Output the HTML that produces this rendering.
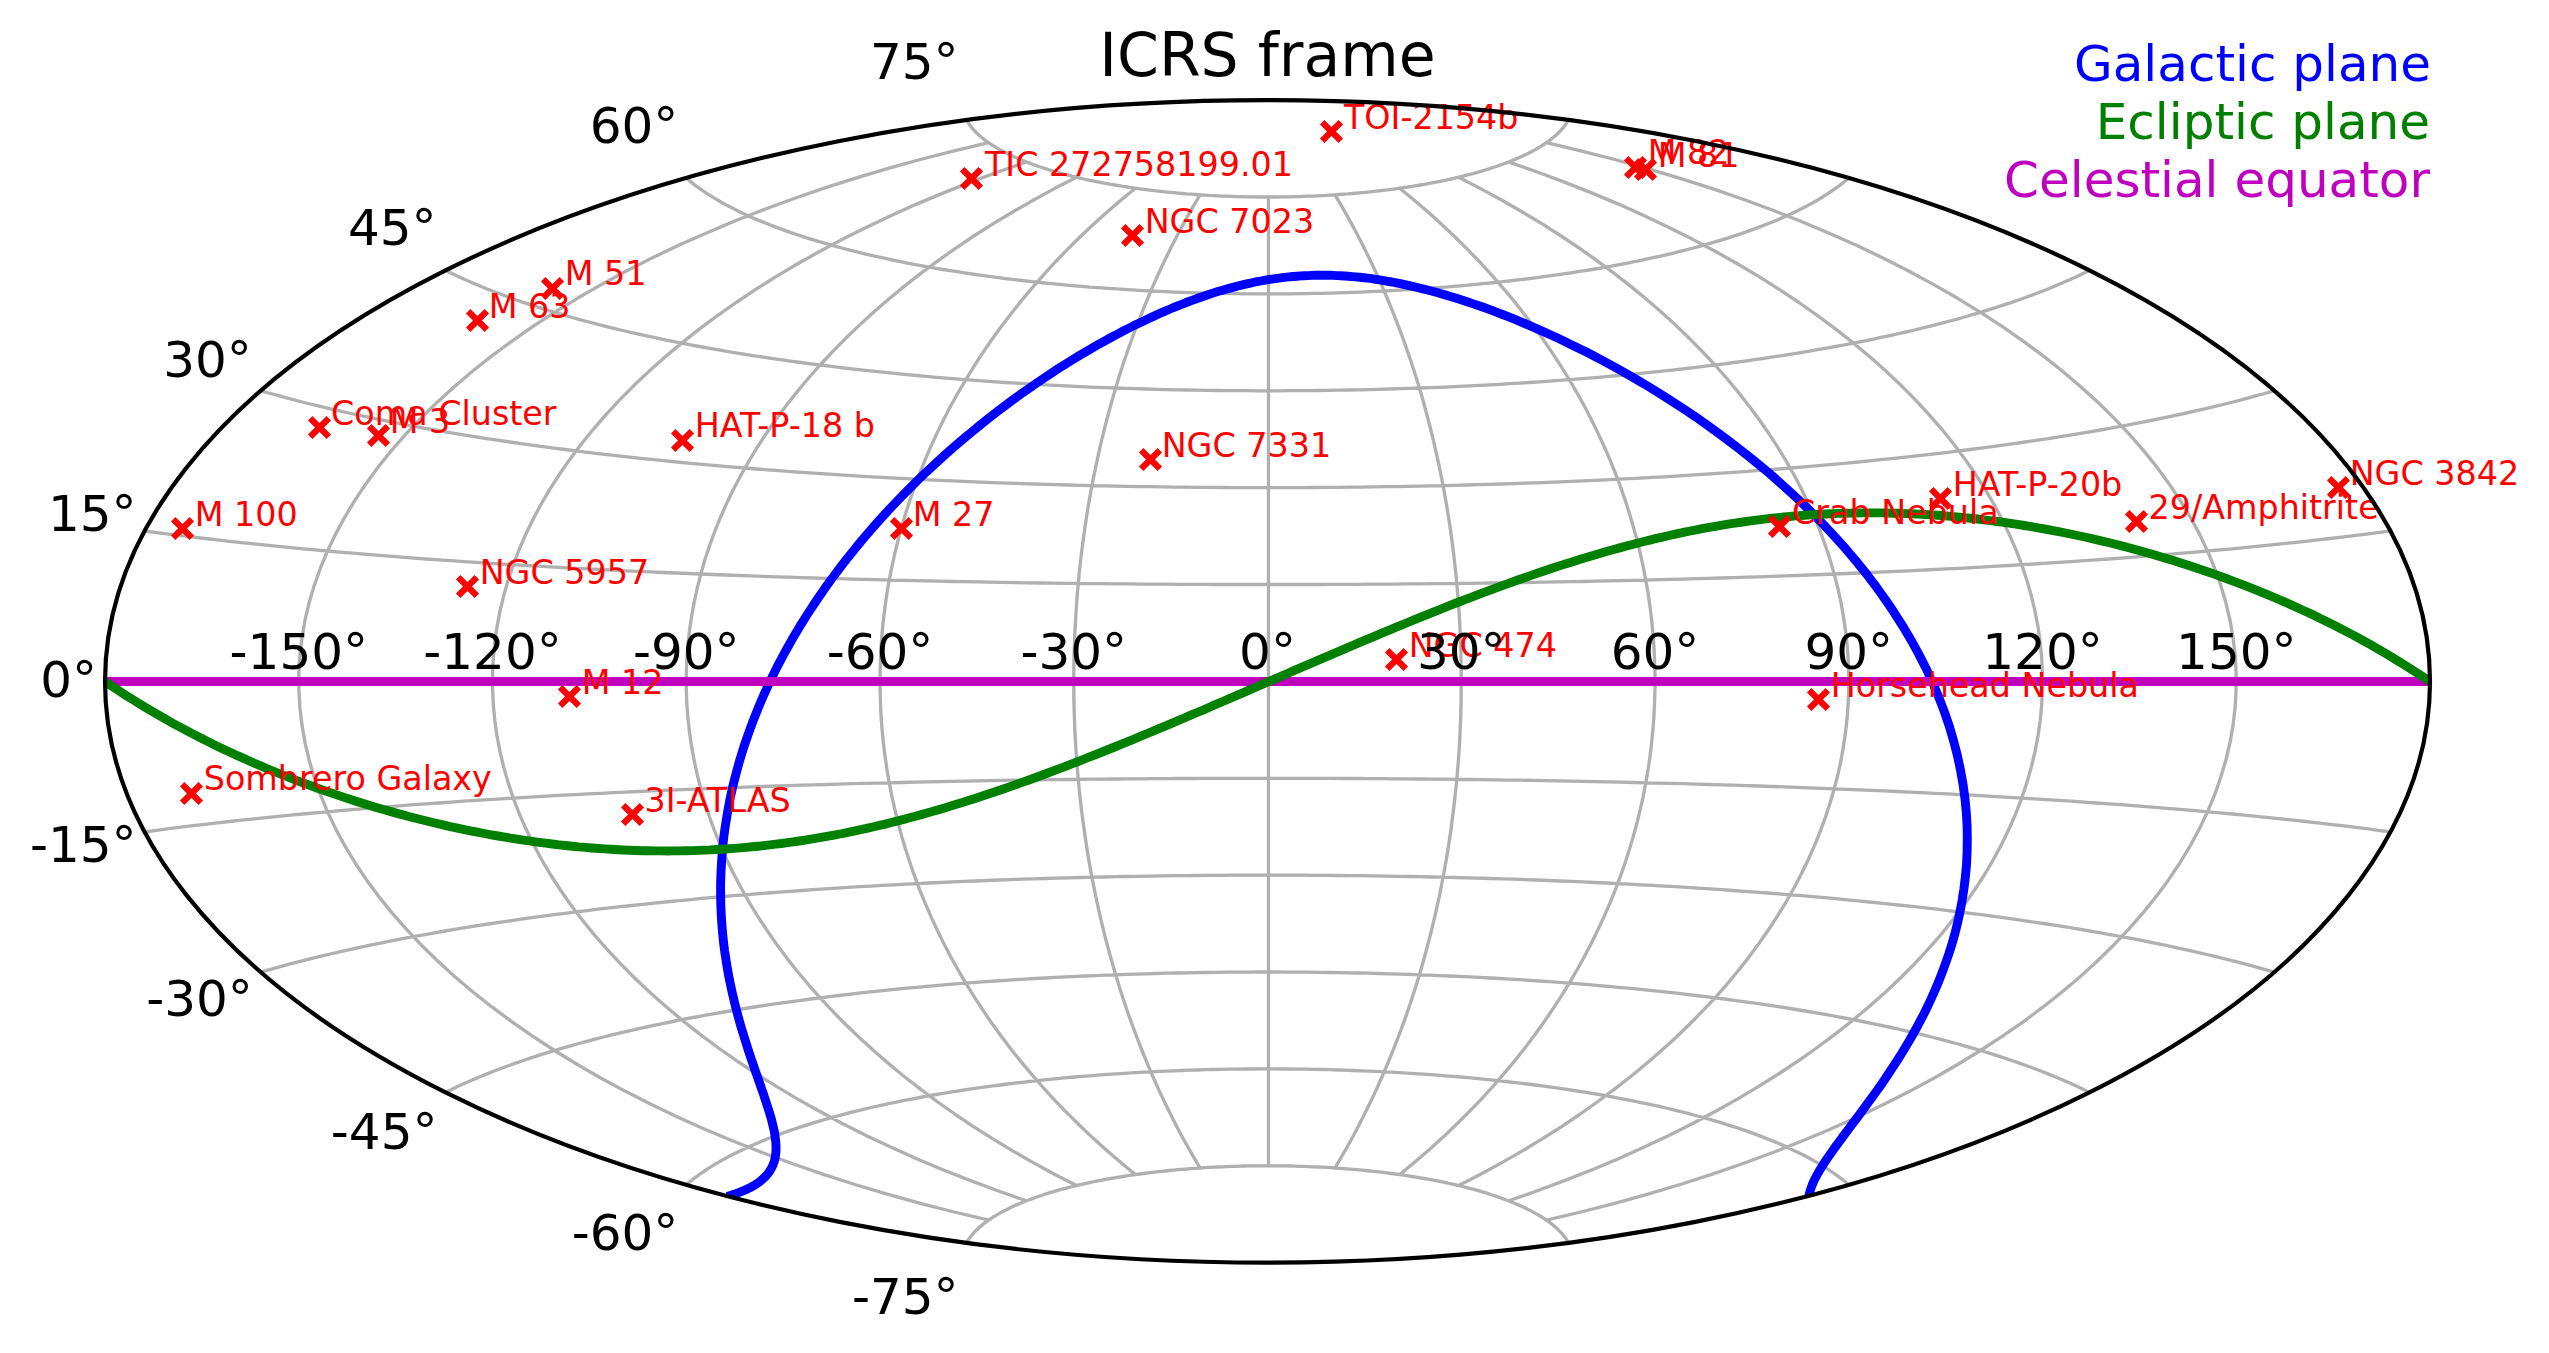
<!DOCTYPE html>
<html lang="en"><head><meta charset="utf-8"><title>ICRS frame</title>
<style>html,body{margin:0;padding:0;background:#fff}svg{display:block}text{white-space:pre}</style></head>
<body>
<svg width="2549" height="1353" viewBox="0 0 2549 1353" font-family="'DejaVu Sans', 'Liberation Sans', sans-serif">
<rect width="2549" height="1353" fill="#fff"/>
<clipPath id="clip"><ellipse cx="1267.51" cy="681.41" rx="1162.50" ry="581.25"/></clipPath>
<g clip-path="url(#clip)" fill="none" stroke-linejoin="round">
<path d="M988.7 1220.1L954.1 1212.0L920.3 1203.3L887.3 1194.2L854.9 1184.5L823.4 1174.4L792.7 1163.8L762.7 1152.8L733.6 1141.3L705.4 1129.5L678 1117.2L651.5 1104.6L625.9 1091.6L601.2 1078.2L577.4 1064.5L554.5 1050.5L532.6 1036.2L511.6 1021.6L491.5 1006.7L472.4 991.5L454.3 976.2L437.2 960.5L421 944.7L405.8 928.7L391.6 912.4L378.4 896.0L366.2 879.4L355 862.7L344.9 845.9L335.7 828.9L327.5 811.8L320.4 794.6L314.2 777.3L309.1 760.0L305 742.6L302 725.1L299.9 707.7L298.9 690.2L298.9 672.7L299.9 655.2L302 637.7L305 620.2L309.1 602.8L314.2 585.5L320.4 568.2L327.5 551.0L335.7 533.9L344.9 517.0L355 500.1L366.2 483.4L378.4 466.8L391.6 450.4L405.8 434.2L421 418.1L437.2 402.3L454.3 386.7L472.4 371.3L491.5 356.1L511.6 341.3L532.6 326.6L554.5 312.3L577.4 298.3L601.2 284.6L625.9 271.3L651.5 258.3L678 245.6L705.4 233.4L733.6 221.5L762.7 210.0L792.7 199.0L823.4 188.4L854.9 178.3L887.3 168.6L920.3 159.5L954.1 150.8L988.7 142.7M1026.4 1200.8L997.8 1190.8L969.9 1180.4L942.9 1169.7L916.6 1158.7L891.2 1147.3L866.6 1135.7L842.8 1123.7L819.9 1111.5L797.7 1099.1L776.4 1086.4L755.8 1073.5L736.1 1060.3L717.1 1047.0L698.9 1033.4L681.6 1019.7L665 1005.8L649.2 991.8L634.1 977.5L619.9 963.2L606.4 948.7L593.7 934.1L581.7 919.3L570.5 904.5L560.1 889.5L550.4 874.5L541.5 859.3L533.3 844.1L525.9 828.8L519.2 813.5L513.3 798.1L508.1 782.6L503.7 767.1L500 751.6L497 736.0L494.8 720.4L493.3 704.8L492.6 689.2L492.6 673.6L493.3 658.0L494.8 642.4L497 626.8L500 611.2L503.7 595.7L508.1 580.2L513.3 564.7L519.2 549.3L525.9 534.0L533.3 518.7L541.5 503.5L550.4 488.4L560.1 473.3L570.5 458.4L581.7 443.5L593.7 428.8L606.4 414.1L619.9 399.6L634.1 385.3L649.2 371.1L665 357.0L681.6 343.1L698.9 329.4L717.1 315.8L736.1 302.5L755.8 289.4L776.4 276.4L797.7 263.7L819.9 251.3L842.8 239.1L866.6 227.2L891.2 215.5L916.6 204.1L942.9 193.1L969.9 182.4L997.8 172.0L1026.4 162.0M1076.5 1185.6L1054.4 1174.2L1033.2 1162.6L1012.7 1150.9L992.9 1138.9L973.8 1126.8L955.5 1114.5L937.8 1102.0L920.8 1089.4L904.5 1076.7L888.8 1063.8L873.8 1050.8L859.5 1037.7L845.7 1024.5L832.6 1011.2L820.1 997.8L808.2 984.3L796.8 970.7L786.1 957.1L775.9 943.3L766.4 929.5L757.3 915.7L748.9 901.8L741 887.8L733.6 873.8L726.8 859.7L720.5 845.6L714.8 831.4L709.6 817.3L704.9 803.0L700.8 788.8L697.2 774.5L694.1 760.2L691.5 745.9L689.4 731.6L687.9 717.3L686.8 702.9L686.3 688.6L686.3 674.2L686.8 659.9L687.9 645.6L689.4 631.2L691.5 616.9L694.1 602.6L697.2 588.3L700.8 574.0L704.9 559.8L709.6 545.6L714.8 531.4L720.5 517.2L726.8 503.1L733.6 489.1L741 475.0L748.9 461.1L757.3 447.1L766.4 433.3L775.9 419.5L786.1 405.7L796.8 392.1L808.2 378.5L820.1 365.0L832.6 351.6L845.7 338.3L859.5 325.1L873.8 312.0L888.8 299.0L904.5 286.1L920.8 273.4L937.8 260.8L955.5 248.3L973.8 236.0L992.9 223.9L1012.7 212.0L1033.2 200.2L1054.4 188.6L1076.5 177.2M1135.4 1174.6L1120.5 1162.3L1106.2 1150.0L1092.4 1137.6L1079.2 1125.0L1066.5 1112.4L1054.3 1099.8L1042.7 1087.0L1031.5 1074.2L1020.8 1061.4L1010.5 1048.5L1000.7 1035.5L991.3 1022.5L982.4 1009.4L973.9 996.3L965.8 983.2L958.1 970.0L950.7 956.8L943.8 943.5L937.3 930.2L931.1 916.9L925.4 903.6L919.9 890.3L914.9 876.9L910.2 863.5L905.8 850.1L901.8 836.6L898.2 823.2L894.9 809.7L891.9 796.3L889.2 782.8L886.9 769.3L885 755.8L883.3 742.3L882 728.7L881 715.2L880.4 701.7L880.1 688.2L880.1 674.6L880.4 661.1L881 647.6L882 634.1L883.3 620.6L885 607.1L886.9 593.5L889.2 580.1L891.9 566.6L894.9 553.1L898.2 539.6L901.8 526.2L905.8 512.8L910.2 499.3L914.9 485.9L919.9 472.6L925.4 459.2L931.1 445.9L937.3 432.6L943.8 419.3L950.7 406.0L958.1 392.8L965.8 379.7L973.9 366.5L982.4 353.4L991.3 340.3L1000.7 327.3L1010.5 314.4L1020.8 301.4L1031.5 288.6L1042.7 275.8L1054.3 263.0L1066.5 250.4L1079.2 237.8L1092.4 225.3L1106.2 212.8L1120.5 200.5L1135.4 188.2M1200 1168.0L1192.5 1155.2L1185.3 1142.5L1178.4 1129.7L1171.8 1116.8L1165.5 1104.0L1159.4 1091.1L1153.6 1078.3L1148.1 1065.4L1142.8 1052.5L1137.7 1039.5L1132.9 1026.6L1128.2 1013.7L1123.8 1000.7L1119.6 987.7L1115.7 974.8L1111.9 961.8L1108.3 948.8L1104.9 935.8L1101.7 922.8L1098.7 909.8L1095.9 896.8L1093.2 883.7L1090.7 870.7L1088.4 857.7L1086.3 844.6L1084.4 831.6L1082.6 818.5L1081 805.5L1079.5 792.4L1078.3 779.4L1077.1 766.3L1076.2 753.3L1075.4 740.2L1074.7 727.1L1074.3 714.1L1073.9 701.0L1073.8 687.9L1073.8 674.9L1073.9 661.8L1074.3 648.7L1074.7 635.7L1075.4 622.6L1076.2 609.6L1077.1 596.5L1078.3 583.4L1079.5 570.4L1081 557.3L1082.6 544.3L1084.4 531.2L1086.3 518.2L1088.4 505.2L1090.7 492.1L1093.2 479.1L1095.9 466.1L1098.7 453.0L1101.7 440.0L1104.9 427.0L1108.3 414.0L1111.9 401.0L1115.7 388.0L1119.6 375.1L1123.8 362.1L1128.2 349.2L1132.9 336.2L1137.7 323.3L1142.8 310.4L1148.1 297.5L1153.6 284.6L1159.4 271.7L1165.5 258.8L1171.8 246.0L1178.4 233.2L1185.3 220.4L1192.5 207.6L1200 194.8M1268.5 1165.8L1268.5 1152.9L1268.5 1140.0L1268.5 1127.0L1268.5 1114.1L1268.5 1101.2L1268.5 1088.3L1268.5 1075.4L1268.5 1062.5L1268.5 1049.5L1268.5 1036.6L1268.5 1023.7L1268.5 1010.8L1268.5 997.9L1268.5 985.0L1268.5 972.0L1268.5 959.1L1268.5 946.2L1268.5 933.3L1268.5 920.4L1268.5 907.5L1268.5 894.5L1268.5 881.6L1268.5 868.7L1268.5 855.8L1268.5 842.9L1268.5 830.0L1268.5 817.0L1268.5 804.1L1268.5 791.2L1268.5 778.3L1268.5 765.4L1268.5 752.5L1268.5 739.5L1268.5 726.6L1268.5 713.7L1268.5 700.8L1268.5 687.9L1268.5 675.0L1268.5 662.0L1268.5 649.1L1268.5 636.2L1268.5 623.3L1268.5 610.4L1268.5 597.5L1268.5 584.5L1268.5 571.6L1268.5 558.7L1268.5 545.8L1268.5 532.9L1268.5 520.0L1268.5 507.0L1268.5 494.1L1268.5 481.2L1268.5 468.3L1268.5 455.4L1268.5 442.5L1268.5 429.5L1268.5 416.6L1268.5 403.7L1268.5 390.8L1268.5 377.9L1268.5 365.0L1268.5 352.0L1268.5 339.1L1268.5 326.2L1268.5 313.3L1268.5 300.4L1268.5 287.5L1268.5 274.5L1268.5 261.6L1268.5 248.7L1268.5 235.8L1268.5 222.9L1268.5 210.0L1268.5 197.0M1335 1168.0L1342.5 1155.2L1349.7 1142.5L1356.6 1129.7L1363.2 1116.8L1369.5 1104.0L1375.6 1091.1L1381.4 1078.3L1386.9 1065.4L1392.2 1052.5L1397.3 1039.5L1402.2 1026.6L1406.8 1013.7L1411.2 1000.7L1415.4 987.7L1419.4 974.8L1423.2 961.8L1426.7 948.8L1430.1 935.8L1433.3 922.8L1436.3 909.8L1439.2 896.8L1441.8 883.7L1444.3 870.7L1446.6 857.7L1448.7 844.6L1450.7 831.6L1452.4 818.5L1454 805.5L1455.5 792.4L1456.8 779.4L1457.9 766.3L1458.9 753.3L1459.7 740.2L1460.3 727.1L1460.8 714.1L1461.1 701.0L1461.2 687.9L1461.2 674.9L1461.1 661.8L1460.8 648.7L1460.3 635.7L1459.7 622.6L1458.9 609.6L1457.9 596.5L1456.8 583.4L1455.5 570.4L1454 557.3L1452.4 544.3L1450.7 531.2L1448.7 518.2L1446.6 505.2L1444.3 492.1L1441.8 479.1L1439.2 466.1L1436.3 453.0L1433.3 440.0L1430.1 427.0L1426.7 414.0L1423.2 401.0L1419.4 388.0L1415.4 375.1L1411.2 362.1L1406.8 349.2L1402.2 336.2L1397.3 323.3L1392.2 310.4L1386.9 297.5L1381.4 284.6L1375.6 271.7L1369.5 258.8L1363.2 246.0L1356.6 233.2L1349.7 220.4L1342.5 207.6L1335 194.8M1399.7 1174.6L1414.6 1162.3L1428.9 1150.0L1442.6 1137.6L1455.8 1125.0L1468.5 1112.4L1480.7 1099.8L1492.4 1087.0L1503.5 1074.2L1514.3 1061.4L1524.5 1048.5L1534.3 1035.5L1543.7 1022.5L1552.6 1009.4L1561.2 996.3L1569.3 983.2L1577 970.0L1584.3 956.8L1591.2 943.5L1597.7 930.2L1603.9 916.9L1609.7 903.6L1615.1 890.3L1620.2 876.9L1624.9 863.5L1629.2 850.1L1633.2 836.6L1636.9 823.2L1640.2 809.7L1643.2 796.3L1645.8 782.8L1648.1 769.3L1650.1 755.8L1651.7 742.3L1653 728.7L1654 715.2L1654.6 701.7L1655 688.2L1655 674.6L1654.6 661.1L1654 647.6L1653 634.1L1651.7 620.6L1650.1 607.1L1648.1 593.5L1645.8 580.1L1643.2 566.6L1640.2 553.1L1636.9 539.6L1633.2 526.2L1629.2 512.8L1624.9 499.3L1620.2 485.9L1615.1 472.6L1609.7 459.2L1603.9 445.9L1597.7 432.6L1591.2 419.3L1584.3 406.0L1577 392.8L1569.3 379.7L1561.2 366.5L1552.6 353.4L1543.7 340.3L1534.3 327.3L1524.5 314.4L1514.3 301.4L1503.5 288.6L1492.4 275.8L1480.7 263.0L1468.5 250.4L1455.8 237.8L1442.6 225.3L1428.9 212.8L1414.6 200.5L1399.7 188.2M1458.6 1185.6L1480.6 1174.2L1501.9 1162.6L1522.4 1150.9L1542.2 1138.9L1561.2 1126.8L1579.6 1114.5L1597.2 1102.0L1614.2 1089.4L1630.5 1076.7L1646.2 1063.8L1661.2 1050.8L1675.6 1037.7L1689.3 1024.5L1702.4 1011.2L1715 997.8L1726.9 984.3L1738.2 970.7L1748.9 957.1L1759.1 943.3L1768.7 929.5L1777.7 915.7L1786.2 901.8L1794.1 887.8L1801.4 873.8L1808.2 859.7L1814.5 845.6L1820.2 831.4L1825.4 817.3L1830.1 803.0L1834.2 788.8L1837.9 774.5L1841 760.2L1843.5 745.9L1845.6 731.6L1847.2 717.3L1848.2 702.9L1848.7 688.6L1848.7 674.2L1848.2 659.9L1847.2 645.6L1845.6 631.2L1843.5 616.9L1841 602.6L1837.9 588.3L1834.2 574.0L1830.1 559.8L1825.4 545.6L1820.2 531.4L1814.5 517.2L1808.2 503.1L1801.4 489.1L1794.1 475.0L1786.2 461.1L1777.7 447.1L1768.7 433.3L1759.1 419.5L1748.9 405.7L1738.2 392.1L1726.9 378.5L1715 365.0L1702.4 351.6L1689.3 338.3L1675.6 325.1L1661.2 312.0L1646.2 299.0L1630.5 286.1L1614.2 273.4L1597.2 260.8L1579.6 248.3L1561.2 236.0L1542.2 223.9L1522.4 212.0L1501.9 200.2L1480.6 188.6L1458.6 177.2M1508.6 1200.8L1537.3 1190.8L1565.1 1180.4L1592.2 1169.7L1618.4 1158.7L1643.8 1147.3L1668.4 1135.7L1692.2 1123.7L1715.2 1111.5L1737.3 1099.1L1758.7 1086.4L1779.2 1073.5L1799 1060.3L1817.9 1047.0L1836.1 1033.4L1853.5 1019.7L1870.1 1005.8L1885.9 991.8L1900.9 977.5L1915.2 963.2L1928.6 948.7L1941.4 934.1L1953.3 919.3L1964.5 904.5L1974.9 889.5L1984.6 874.5L1993.5 859.3L2001.7 844.1L2009.1 828.8L2015.8 813.5L2021.7 798.1L2026.9 782.6L2031.3 767.1L2035 751.6L2038 736.0L2040.2 720.4L2041.7 704.8L2042.4 689.2L2042.4 673.6L2041.7 658.0L2040.2 642.4L2038 626.8L2035 611.2L2031.3 595.7L2026.9 580.2L2021.7 564.7L2015.8 549.3L2009.1 534.0L2001.7 518.7L1993.5 503.5L1984.6 488.4L1974.9 473.3L1964.5 458.4L1953.3 443.5L1941.4 428.8L1928.6 414.1L1915.2 399.6L1900.9 385.3L1885.9 371.1L1870.1 357.0L1853.5 343.1L1836.1 329.4L1817.9 315.8L1799 302.5L1779.2 289.4L1758.7 276.4L1737.3 263.7L1715.2 251.3L1692.2 239.1L1668.4 227.2L1643.8 215.5L1618.4 204.1L1592.2 193.1L1565.1 182.4L1537.3 172.0L1508.6 162.0M1546.4 1220.1L1580.9 1212.0L1614.7 1203.3L1647.8 1194.2L1680.1 1184.5L1711.6 1174.4L1742.4 1163.8L1772.3 1152.8L1801.4 1141.3L1829.6 1129.5L1857 1117.2L1883.5 1104.6L1909.1 1091.6L1933.8 1078.2L1957.6 1064.5L1980.5 1050.5L2002.5 1036.2L2023.5 1021.6L2043.5 1006.7L2062.6 991.5L2080.7 976.2L2097.9 960.5L2114 944.7L2129.2 928.7L2143.4 912.4L2156.6 896.0L2168.8 879.4L2180 862.7L2190.2 845.9L2199.4 828.9L2207.5 811.8L2214.7 794.6L2220.8 777.3L2225.9 760.0L2230 742.6L2233.1 725.1L2235.1 707.7L2236.1 690.2L2236.1 672.7L2235.1 655.2L2233.1 637.7L2230 620.2L2225.9 602.8L2220.8 585.5L2214.7 568.2L2207.5 551.0L2199.4 533.9L2190.2 517.0L2180 500.1L2168.8 483.4L2156.6 466.8L2143.4 450.4L2129.2 434.2L2114 418.1L2097.9 402.3L2080.7 386.7L2062.6 371.3L2043.5 356.1L2023.5 341.3L2002.5 326.6L1980.5 312.3L1957.6 298.3L1933.8 284.6L1909.1 271.3L1883.5 258.3L1857 245.6L1829.6 233.4L1801.4 221.5L1772.3 210.0L1742.4 199.0L1711.6 188.4L1680.1 178.3L1647.8 168.6L1614.7 159.5L1580.9 150.8L1546.4 142.7M966.6 1242.9L967.5 1241.2L968.5 1239.6L969.6 1238.1L970.8 1236.5L972 1234.9L973.3 1233.4L974.7 1231.9L976.2 1230.3L977.8 1228.8L979.4 1227.3L981.1 1225.9L982.9 1224.4L984.7 1223.0L986.7 1221.5L988.7 1220.1L990.7 1218.7L992.9 1217.3L995.1 1216.0L997.3 1214.6L999.7 1213.3L1002.1 1211.9L1004.6 1210.6L1007.1 1209.4L1009.7 1208.1L1012.3 1206.8L1015 1205.6L1017.8 1204.4L1020.6 1203.2L1023.5 1202.0L1026.4 1200.8L1029.4 1199.7L1032.5 1198.6L1035.6 1197.5L1038.7 1196.4L1041.9 1195.3L1045.2 1194.2L1048.5 1193.2L1051.8 1192.2L1055.2 1191.2L1058.6 1190.2L1062.1 1189.2L1065.6 1188.3L1069.2 1187.4L1072.8 1186.5L1076.5 1185.6L1080.1 1184.7L1083.9 1183.9L1087.6 1183.0L1091.4 1182.2L1095.3 1181.4L1099.1 1180.7L1103 1179.9L1107 1179.2L1110.9 1178.5L1114.9 1177.8L1119 1177.1L1123 1176.5L1127.1 1175.8L1131.2 1175.2L1135.4 1174.6L1139.5 1174.0L1143.7 1173.5L1147.9 1172.9L1152.2 1172.4L1156.4 1171.9L1160.7 1171.4L1165 1171.0L1169.3 1170.5L1173.7 1170.1L1178 1169.7L1182.4 1169.3L1186.8 1169.0L1191.2 1168.6L1195.6 1168.3L1200 1168.0L1204.5 1167.7L1208.9 1167.4L1213.4 1167.2L1217.9 1167.0L1222.3 1166.8L1226.8 1166.6L1231.3 1166.4L1235.8 1166.3L1240.4 1166.1L1244.9 1166.0L1249.4 1165.9L1253.9 1165.9L1258.5 1165.8L1263 1165.8L1267.5 1165.8L1272 1165.8L1276.6 1165.8L1281.1 1165.9L1285.6 1165.9L1290.1 1166.0L1294.7 1166.1L1299.2 1166.3L1303.7 1166.4L1308.2 1166.6L1312.7 1166.8L1317.2 1167.0L1321.6 1167.2L1326.1 1167.4L1330.6 1167.7L1335 1168.0L1339.4 1168.3L1343.9 1168.6L1348.3 1169.0L1352.6 1169.3L1357 1169.7L1361.4 1170.1L1365.7 1170.5L1370 1171.0L1374.3 1171.4L1378.6 1171.9L1382.9 1172.4L1387.1 1172.9L1391.3 1173.5L1395.5 1174.0L1399.7 1174.6L1403.8 1175.2L1407.9 1175.8L1412 1176.5L1416.1 1177.1L1420.1 1177.8L1424.1 1178.5L1428.1 1179.2L1432 1179.9L1435.9 1180.7L1439.8 1181.4L1443.6 1182.2L1447.4 1183.0L1451.2 1183.9L1454.9 1184.7L1458.6 1185.6L1462.2 1186.5L1465.8 1187.4L1469.4 1188.3L1472.9 1189.2L1476.4 1190.2L1479.8 1191.2L1483.2 1192.2L1486.6 1193.2L1489.9 1194.2L1493.1 1195.3L1496.3 1196.4L1499.4 1197.5L1502.5 1198.6L1505.6 1199.7L1508.6 1200.8L1511.5 1202.0L1514.4 1203.2L1517.2 1204.4L1520 1205.6L1522.7 1206.8L1525.4 1208.1L1527.9 1209.4L1530.5 1210.6L1532.9 1211.9L1535.3 1213.3L1537.7 1214.6L1540 1216.0L1542.2 1217.3L1544.3 1218.7L1546.4 1220.1L1548.4 1221.5L1550.3 1223.0L1552.1 1224.4L1553.9 1225.9L1555.6 1227.3L1557.3 1228.8L1558.8 1230.3L1560.3 1231.9L1561.7 1233.4L1563 1234.9L1564.3 1236.5L1565.4 1238.1L1566.5 1239.6L1567.5 1241.2L1568.4 1242.9M686.3 1184.8L689.6 1182.0L693 1179.3L696.5 1176.6L700.2 1173.9L704 1171.3L707.9 1168.7L712 1166.1L716.1 1163.6L720.4 1161.2L724.7 1158.7L729.2 1156.3L733.8 1154.0L738.4 1151.7L743.2 1149.4L748.1 1147.1L753 1144.9L758.1 1142.7L763.3 1140.6L768.5 1138.5L773.8 1136.4L779.2 1134.4L784.7 1132.4L790.2 1130.4L795.9 1128.5L801.6 1126.6L807.4 1124.8L813.3 1122.9L819.2 1121.1L825.2 1119.4L831.3 1117.7L837.4 1116.0L843.6 1114.3L849.8 1112.7L856.2 1111.1L862.5 1109.6L869 1108.0L875.5 1106.5L882 1105.1L888.6 1103.7L895.2 1102.3L901.9 1100.9L908.7 1099.6L915.5 1098.3L922.3 1097.0L929.2 1095.7L936.1 1094.5L943.1 1093.4L950.1 1092.2L957.2 1091.1L964.3 1090.0L971.4 1088.9L978.5 1087.9L985.7 1086.9L993 1085.9L1000.2 1085.0L1007.5 1084.0L1014.9 1083.1L1022.2 1082.3L1029.6 1081.5L1037 1080.6L1044.5 1079.9L1051.9 1079.1L1059.4 1078.4L1066.9 1077.7L1074.5 1077.0L1082 1076.4L1089.6 1075.8L1097.2 1075.2L1104.8 1074.6L1112.4 1074.1L1120.1 1073.6L1127.8 1073.1L1135.4 1072.6L1143.1 1072.2L1150.8 1071.8L1158.6 1071.4L1166.3 1071.1L1174 1070.8L1181.8 1070.5L1189.6 1070.2L1197.3 1070.0L1205.1 1069.7L1212.9 1069.5L1220.7 1069.4L1228.5 1069.2L1236.3 1069.1L1244.1 1069.0L1251.9 1069.0L1259.7 1068.9L1267.5 1068.9L1275.3 1068.9L1283.1 1069.0L1290.9 1069.0L1298.7 1069.1L1306.5 1069.2L1314.3 1069.4L1322.1 1069.5L1329.9 1069.7L1337.7 1070.0L1345.5 1070.2L1353.2 1070.5L1361 1070.8L1368.7 1071.1L1376.5 1071.4L1384.2 1071.8L1391.9 1072.2L1399.6 1072.6L1407.3 1073.1L1414.9 1073.6L1422.6 1074.1L1430.2 1074.6L1437.8 1075.2L1445.4 1075.8L1453 1076.4L1460.6 1077.0L1468.1 1077.7L1475.6 1078.4L1483.1 1079.1L1490.6 1079.9L1498 1080.6L1505.4 1081.5L1512.8 1082.3L1520.2 1083.1L1527.5 1084.0L1534.8 1085.0L1542.1 1085.9L1549.3 1086.9L1556.5 1087.9L1563.6 1088.9L1570.8 1090.0L1577.9 1091.1L1584.9 1092.2L1591.9 1093.4L1598.9 1094.5L1605.8 1095.7L1612.7 1097.0L1619.5 1098.3L1626.3 1099.6L1633.1 1100.9L1639.8 1102.3L1646.4 1103.7L1653 1105.1L1659.6 1106.5L1666.1 1108.0L1672.5 1109.6L1678.9 1111.1L1685.2 1112.7L1691.4 1114.3L1697.6 1116.0L1703.8 1117.7L1709.8 1119.4L1715.8 1121.1L1721.8 1122.9L1727.6 1124.8L1733.4 1126.6L1739.1 1128.5L1744.8 1130.4L1750.3 1132.4L1755.8 1134.4L1761.2 1136.4L1766.5 1138.5L1771.8 1140.6L1776.9 1142.7L1782 1144.9L1786.9 1147.1L1791.8 1149.4L1796.6 1151.7L1801.3 1154.0L1805.8 1156.3L1810.3 1158.7L1814.7 1161.2L1818.9 1163.6L1823.1 1166.1L1827.1 1168.7L1831 1171.3L1834.8 1173.9L1838.5 1176.6L1842 1179.3L1845.5 1182.0L1848.8 1184.8M445.5 1092.4L452 1089.2L458.7 1086.1L465.4 1083.0L472.3 1080.0L479.3 1077.0L486.4 1074.1L493.6 1071.3L500.9 1068.5L508.3 1065.8L515.7 1063.1L523.3 1060.5L531 1057.9L538.7 1055.4L546.6 1052.9L554.5 1050.5L562.5 1048.1L570.6 1045.8L578.7 1043.5L586.9 1041.3L595.2 1039.1L603.6 1037.0L612 1034.9L620.5 1032.9L629.1 1030.8L637.7 1028.9L646.3 1027.0L655.1 1025.1L663.8 1023.3L672.7 1021.5L681.6 1019.7L690.5 1018.0L699.5 1016.3L708.5 1014.7L717.6 1013.1L726.7 1011.5L735.9 1010.0L745.1 1008.5L754.3 1007.0L763.6 1005.6L772.9 1004.2L782.3 1002.9L791.7 1001.6L801.1 1000.3L810.6 999.0L820.1 997.8L829.6 996.6L839.2 995.5L848.7 994.3L858.4 993.2L868 992.2L877.7 991.1L887.4 990.1L897.1 989.2L906.8 988.2L916.6 987.3L926.4 986.4L936.2 985.6L946 984.7L955.9 983.9L965.8 983.2L975.6 982.4L985.6 981.7L995.5 981.0L1005.4 980.4L1015.4 979.7L1025.3 979.1L1035.3 978.5L1045.3 978.0L1055.3 977.4L1065.4 976.9L1075.4 976.4L1085.5 976.0L1095.5 975.6L1105.6 975.2L1115.7 974.8L1125.7 974.4L1135.8 974.1L1145.9 973.8L1156 973.5L1166.2 973.2L1176.3 973.0L1186.4 972.8L1196.5 972.6L1206.7 972.5L1216.8 972.3L1226.9 972.2L1237.1 972.1L1247.2 972.1L1257.4 972.0L1267.5 972.0L1277.7 972.0L1287.8 972.1L1297.9 972.1L1308.1 972.2L1318.2 972.3L1328.4 972.5L1338.5 972.6L1348.6 972.8L1358.7 973.0L1368.9 973.2L1379 973.5L1389.1 973.8L1399.2 974.1L1409.3 974.4L1419.4 974.8L1429.4 975.2L1439.5 975.6L1449.6 976.0L1459.6 976.4L1469.7 976.9L1479.7 977.4L1489.7 978.0L1499.7 978.5L1509.7 979.1L1519.7 979.7L1529.6 980.4L1539.5 981.0L1549.5 981.7L1559.4 982.4L1569.3 983.2L1579.1 983.9L1589 984.7L1598.8 985.6L1608.6 986.4L1618.4 987.3L1628.2 988.2L1637.9 989.2L1647.7 990.1L1657.4 991.1L1667 992.2L1676.7 993.2L1686.3 994.3L1695.9 995.5L1705.4 996.6L1715 997.8L1724.5 999.0L1733.9 1000.3L1743.3 1001.6L1752.7 1002.9L1762.1 1004.2L1771.4 1005.6L1780.7 1007.0L1790 1008.5L1799.2 1010.0L1808.3 1011.5L1817.4 1013.1L1826.5 1014.7L1835.6 1016.3L1844.5 1018.0L1853.5 1019.7L1862.4 1021.5L1871.2 1023.3L1880 1025.1L1888.7 1027.0L1897.4 1028.9L1906 1030.8L1914.5 1032.9L1923 1034.9L1931.4 1037.0L1939.8 1039.1L1948.1 1041.3L1956.3 1043.5L1964.5 1045.8L1972.5 1048.1L1980.5 1050.5L1988.4 1052.9L1996.3 1055.4L2004 1057.9L2011.7 1060.5L2019.3 1063.1L2026.8 1065.8L2034.2 1068.5L2041.5 1071.3L2048.7 1074.1L2055.7 1077.0L2062.7 1080.0L2069.6 1083.0L2076.4 1086.1L2083 1089.2L2089.5 1092.4M260.8 972.0L270.5 969.3L280.3 966.6L290.2 963.9L300.1 961.4L310.1 958.8L320.2 956.4L330.3 954.0L340.5 951.7L350.7 949.4L361 947.1L371.4 944.9L381.8 942.8L392.2 940.7L402.7 938.7L413.3 936.7L423.9 934.8L434.5 932.9L445.2 931.0L455.9 929.2L466.6 927.4L477.4 925.7L488.3 924.0L499.1 922.4L510 920.8L520.9 919.2L531.9 917.7L542.9 916.2L553.9 914.7L564.9 913.3L576 911.9L587.1 910.6L598.2 909.2L609.4 907.9L620.6 906.7L631.8 905.5L643 904.3L654.2 903.1L665.5 902.0L676.8 900.8L688.1 899.8L699.4 898.7L710.7 897.7L722.1 896.7L733.5 895.7L744.9 894.8L756.3 893.9L767.7 893.0L779.1 892.1L790.6 891.3L802 890.5L813.5 889.7L825 888.9L836.5 888.2L848 887.4L859.6 886.7L871.1 886.1L882.6 885.4L894.2 884.8L905.8 884.2L917.4 883.6L928.9 883.0L940.5 882.5L952.1 881.9L963.8 881.4L975.4 881.0L987 880.5L998.7 880.0L1010.3 879.6L1021.9 879.2L1033.6 878.8L1045.3 878.5L1056.9 878.1L1068.6 877.8L1080.3 877.5L1092 877.2L1103.6 877.0L1115.3 876.7L1127 876.5L1138.7 876.3L1150.4 876.1L1162.1 875.9L1173.8 875.7L1185.5 875.6L1197.2 875.5L1208.9 875.4L1220.7 875.3L1232.4 875.2L1244.1 875.2L1255.8 875.2L1267.5 875.2L1279.2 875.2L1290.9 875.2L1302.7 875.2L1314.4 875.3L1326.1 875.4L1337.8 875.5L1349.5 875.6L1361.2 875.7L1372.9 875.9L1384.6 876.1L1396.3 876.3L1408 876.5L1419.7 876.7L1431.4 877.0L1443.1 877.2L1454.8 877.5L1466.4 877.8L1478.1 878.1L1489.8 878.5L1501.4 878.8L1513.1 879.2L1524.7 879.6L1536.4 880.0L1548 880.5L1559.6 881.0L1571.3 881.4L1582.9 881.9L1594.5 882.5L1606.1 883.0L1617.7 883.6L1629.3 884.2L1640.8 884.8L1652.4 885.4L1663.9 886.1L1675.5 886.7L1687 887.4L1698.5 888.2L1710 888.9L1721.5 889.7L1733 890.5L1744.5 891.3L1755.9 892.1L1767.3 893.0L1778.8 893.9L1790.2 894.8L1801.6 895.7L1812.9 896.7L1824.3 897.7L1835.6 898.7L1847 899.8L1858.3 900.8L1869.5 902.0L1880.8 903.1L1892 904.3L1903.3 905.5L1914.5 906.7L1925.6 907.9L1936.8 909.2L1947.9 910.6L1959 911.9L1970.1 913.3L1981.1 914.7L1992.1 916.2L2003.1 917.7L2014.1 919.2L2025 920.8L2035.9 922.4L2046.8 924.0L2057.6 925.7L2068.4 927.4L2079.1 929.2L2089.8 931.0L2100.5 932.9L2111.2 934.8L2121.7 936.7L2132.3 938.7L2142.8 940.7L2153.2 942.8L2163.6 944.9L2174 947.1L2184.3 949.4L2194.5 951.7L2204.7 954.0L2214.9 956.4L2224.9 958.8L2234.9 961.4L2244.9 963.9L2254.7 966.6L2264.5 969.3L2274.3 972.0M144.6 831.8L156.7 830.3L168.8 828.7L180.9 827.2L193 825.7L205.1 824.3L217.3 822.9L229.5 821.5L241.7 820.2L253.9 818.9L266.1 817.6L278.4 816.4L290.6 815.2L302.9 814.0L315.2 812.9L327.5 811.8L339.8 810.7L352.2 809.6L364.5 808.6L376.8 807.6L389.2 806.6L401.6 805.7L413.9 804.7L426.3 803.8L438.7 803.0L451.1 802.1L463.6 801.2L476 800.4L488.4 799.6L500.9 798.8L513.3 798.1L525.8 797.3L538.2 796.6L550.7 795.9L563.2 795.2L575.7 794.6L588.1 793.9L600.6 793.3L613.1 792.7L625.6 792.1L638.2 791.5L650.7 790.9L663.2 790.4L675.7 789.8L688.2 789.3L700.8 788.8L713.3 788.3L725.9 787.8L738.4 787.3L751 786.9L763.5 786.5L776.1 786.0L788.6 785.6L801.2 785.2L813.8 784.8L826.3 784.5L838.9 784.1L851.5 783.7L864.1 783.4L876.7 783.1L889.2 782.8L901.8 782.5L914.4 782.2L927 781.9L939.6 781.6L952.2 781.4L964.8 781.1L977.4 780.9L990 780.7L1002.6 780.4L1015.2 780.2L1027.8 780.1L1040.4 779.9L1053 779.7L1065.6 779.5L1078.3 779.4L1090.9 779.2L1103.5 779.1L1116.1 779.0L1128.7 778.9L1141.3 778.8L1153.9 778.7L1166.6 778.6L1179.2 778.5L1191.8 778.5L1204.4 778.4L1217 778.4L1229.7 778.3L1242.3 778.3L1254.9 778.3L1267.5 778.3L1280.1 778.3L1292.8 778.3L1305.4 778.3L1318 778.4L1330.6 778.4L1343.2 778.5L1355.9 778.5L1368.5 778.6L1381.1 778.7L1393.7 778.8L1406.3 778.9L1418.9 779.0L1431.6 779.1L1444.2 779.2L1456.8 779.4L1469.4 779.5L1482 779.7L1494.6 779.9L1507.2 780.1L1519.8 780.2L1532.4 780.4L1545 780.7L1557.6 780.9L1570.2 781.1L1582.8 781.4L1595.4 781.6L1608 781.9L1620.6 782.2L1633.2 782.5L1645.8 782.8L1658.4 783.1L1671 783.4L1683.5 783.7L1696.1 784.1L1708.7 784.5L1721.3 784.8L1733.8 785.2L1746.4 785.6L1759 786.0L1771.5 786.5L1784.1 786.9L1796.6 787.3L1809.2 787.8L1821.7 788.3L1834.2 788.8L1846.8 789.3L1859.3 789.8L1871.8 790.4L1884.4 790.9L1896.9 791.5L1909.4 792.1L1921.9 792.7L1934.4 793.3L1946.9 793.9L1959.4 794.6L1971.9 795.2L1984.3 795.9L1996.8 796.6L2009.3 797.3L2021.7 798.1L2034.2 798.8L2046.6 799.6L2059 800.4L2071.5 801.2L2083.9 802.1L2096.3 803.0L2108.7 803.8L2121.1 804.7L2133.5 805.7L2145.8 806.6L2158.2 807.6L2170.5 808.6L2182.9 809.6L2195.2 810.7L2207.5 811.8L2219.8 812.9L2232.1 814.0L2244.4 815.2L2256.6 816.4L2268.9 817.6L2281.1 818.9L2293.3 820.2L2305.5 821.5L2317.7 822.9L2329.9 824.3L2342 825.7L2354.1 827.2L2366.3 828.7L2378.3 830.3L2390.4 831.8M144.6 531.0L156.7 532.6L168.8 534.1L180.9 535.6L193 537.1L205.1 538.5L217.3 539.9L229.5 541.3L241.7 542.6L253.9 543.9L266.1 545.2L278.4 546.4L290.6 547.6L302.9 548.8L315.2 549.9L327.5 551.0L339.8 552.1L352.2 553.2L364.5 554.2L376.8 555.2L389.2 556.2L401.6 557.1L413.9 558.1L426.3 559.0L438.7 559.9L451.1 560.7L463.6 561.6L476 562.4L488.4 563.2L500.9 564.0L513.3 564.7L525.8 565.5L538.2 566.2L550.7 566.9L563.2 567.6L575.7 568.3L588.1 568.9L600.6 569.5L613.1 570.2L625.6 570.8L638.2 571.3L650.7 571.9L663.2 572.5L675.7 573.0L688.2 573.5L700.8 574.0L713.3 574.5L725.9 575.0L738.4 575.5L751 575.9L763.5 576.4L776.1 576.8L788.6 577.2L801.2 577.6L813.8 578.0L826.3 578.4L838.9 578.7L851.5 579.1L864.1 579.4L876.7 579.7L889.2 580.1L901.8 580.4L914.4 580.6L927 580.9L939.6 581.2L952.2 581.5L964.8 581.7L977.4 581.9L990 582.2L1002.6 582.4L1015.2 582.6L1027.8 582.8L1040.4 583.0L1053 583.1L1065.6 583.3L1078.3 583.4L1090.9 583.6L1103.5 583.7L1116.1 583.8L1128.7 583.9L1141.3 584.1L1153.9 584.1L1166.6 584.2L1179.2 584.3L1191.8 584.4L1204.4 584.4L1217 584.5L1229.7 584.5L1242.3 584.5L1254.9 584.5L1267.5 584.5L1280.1 584.5L1292.8 584.5L1305.4 584.5L1318 584.5L1330.6 584.4L1343.2 584.4L1355.9 584.3L1368.5 584.2L1381.1 584.1L1393.7 584.1L1406.3 583.9L1418.9 583.8L1431.6 583.7L1444.2 583.6L1456.8 583.4L1469.4 583.3L1482 583.1L1494.6 583.0L1507.2 582.8L1519.8 582.6L1532.4 582.4L1545 582.2L1557.6 581.9L1570.2 581.7L1582.8 581.5L1595.4 581.2L1608 580.9L1620.6 580.6L1633.2 580.4L1645.8 580.1L1658.4 579.7L1671 579.4L1683.5 579.1L1696.1 578.7L1708.7 578.4L1721.3 578.0L1733.8 577.6L1746.4 577.2L1759 576.8L1771.5 576.4L1784.1 575.9L1796.6 575.5L1809.2 575.0L1821.7 574.5L1834.2 574.0L1846.8 573.5L1859.3 573.0L1871.8 572.5L1884.4 571.9L1896.9 571.3L1909.4 570.8L1921.9 570.2L1934.4 569.5L1946.9 568.9L1959.4 568.3L1971.9 567.6L1984.3 566.9L1996.8 566.2L2009.3 565.5L2021.7 564.7L2034.2 564.0L2046.6 563.2L2059 562.4L2071.5 561.6L2083.9 560.7L2096.3 559.9L2108.7 559.0L2121.1 558.1L2133.5 557.1L2145.8 556.2L2158.2 555.2L2170.5 554.2L2182.9 553.2L2195.2 552.1L2207.5 551.0L2219.8 549.9L2232.1 548.8L2244.4 547.6L2256.6 546.4L2268.9 545.2L2281.1 543.9L2293.3 542.6L2305.5 541.3L2317.7 539.9L2329.9 538.5L2342 537.1L2354.1 535.6L2366.3 534.1L2378.3 532.6L2390.4 531.0M260.8 390.8L270.5 393.5L280.3 396.2L290.2 398.9L300.1 401.5L310.1 404.0L320.2 406.4L330.3 408.8L340.5 411.2L350.7 413.5L361 415.7L371.4 417.9L381.8 420.0L392.2 422.1L402.7 424.1L413.3 426.1L423.9 428.1L434.5 430.0L445.2 431.8L455.9 433.6L466.6 435.4L477.4 437.1L488.3 438.8L499.1 440.4L510 442.0L520.9 443.6L531.9 445.1L542.9 446.6L553.9 448.1L564.9 449.5L576 450.9L587.1 452.3L598.2 453.6L609.4 454.9L620.6 456.1L631.8 457.4L643 458.6L654.2 459.7L665.5 460.9L676.8 462.0L688.1 463.1L699.4 464.1L710.7 465.1L722.1 466.1L733.5 467.1L744.9 468.0L756.3 469.0L767.7 469.8L779.1 470.7L790.6 471.6L802 472.4L813.5 473.2L825 473.9L836.5 474.7L848 475.4L859.6 476.1L871.1 476.8L882.6 477.4L894.2 478.1L905.8 478.7L917.4 479.2L928.9 479.8L940.5 480.4L952.1 480.9L963.8 481.4L975.4 481.9L987 482.3L998.7 482.8L1010.3 483.2L1021.9 483.6L1033.6 484.0L1045.3 484.3L1056.9 484.7L1068.6 485.0L1080.3 485.3L1092 485.6L1103.6 485.9L1115.3 486.1L1127 486.3L1138.7 486.6L1150.4 486.7L1162.1 486.9L1173.8 487.1L1185.5 487.2L1197.2 487.3L1208.9 487.4L1220.7 487.5L1232.4 487.6L1244.1 487.6L1255.8 487.7L1267.5 487.7L1279.2 487.7L1290.9 487.6L1302.7 487.6L1314.4 487.5L1326.1 487.4L1337.8 487.3L1349.5 487.2L1361.2 487.1L1372.9 486.9L1384.6 486.7L1396.3 486.6L1408 486.3L1419.7 486.1L1431.4 485.9L1443.1 485.6L1454.8 485.3L1466.4 485.0L1478.1 484.7L1489.8 484.3L1501.4 484.0L1513.1 483.6L1524.7 483.2L1536.4 482.8L1548 482.3L1559.6 481.9L1571.3 481.4L1582.9 480.9L1594.5 480.4L1606.1 479.8L1617.7 479.2L1629.3 478.7L1640.8 478.1L1652.4 477.4L1663.9 476.8L1675.5 476.1L1687 475.4L1698.5 474.7L1710 473.9L1721.5 473.2L1733 472.4L1744.5 471.6L1755.9 470.7L1767.3 469.8L1778.8 469.0L1790.2 468.0L1801.6 467.1L1812.9 466.1L1824.3 465.1L1835.6 464.1L1847 463.1L1858.3 462.0L1869.5 460.9L1880.8 459.7L1892 458.6L1903.3 457.4L1914.5 456.1L1925.6 454.9L1936.8 453.6L1947.9 452.3L1959 450.9L1970.1 449.5L1981.1 448.1L1992.1 446.6L2003.1 445.1L2014.1 443.6L2025 442.0L2035.9 440.4L2046.8 438.8L2057.6 437.1L2068.4 435.4L2079.1 433.6L2089.8 431.8L2100.5 430.0L2111.2 428.1L2121.7 426.1L2132.3 424.1L2142.8 422.1L2153.2 420.0L2163.6 417.9L2174 415.7L2184.3 413.5L2194.5 411.2L2204.7 408.8L2214.9 406.4L2224.9 404.0L2234.9 401.5L2244.9 398.9L2254.7 396.2L2264.5 393.5L2274.3 390.8M445.5 270.4L452 273.6L458.7 276.7L465.4 279.8L472.3 282.8L479.3 285.8L486.4 288.7L493.6 291.5L500.9 294.3L508.3 297.0L515.7 299.7L523.3 302.4L531 304.9L538.7 307.4L546.6 309.9L554.5 312.3L562.5 314.7L570.6 317.0L578.7 319.3L586.9 321.5L595.2 323.7L603.6 325.8L612 327.9L620.5 330.0L629.1 332.0L637.7 333.9L646.3 335.8L655.1 337.7L663.8 339.6L672.7 341.4L681.6 343.1L690.5 344.8L699.5 346.5L708.5 348.1L717.6 349.7L726.7 351.3L735.9 352.8L745.1 354.3L754.3 355.8L763.6 357.2L772.9 358.6L782.3 359.9L791.7 361.3L801.1 362.5L810.6 363.8L820.1 365.0L829.6 366.2L839.2 367.4L848.7 368.5L858.4 369.6L868 370.6L877.7 371.7L887.4 372.7L897.1 373.7L906.8 374.6L916.6 375.5L926.4 376.4L936.2 377.3L946 378.1L955.9 378.9L965.8 379.7L975.6 380.4L985.6 381.1L995.5 381.8L1005.4 382.5L1015.4 383.1L1025.3 383.7L1035.3 384.3L1045.3 384.9L1055.3 385.4L1065.4 385.9L1075.4 386.4L1085.5 386.8L1095.5 387.3L1105.6 387.7L1115.7 388.0L1125.7 388.4L1135.8 388.7L1145.9 389.0L1156 389.3L1166.2 389.6L1176.3 389.8L1186.4 390.0L1196.5 390.2L1206.7 390.4L1216.8 390.5L1226.9 390.6L1237.1 390.7L1247.2 390.7L1257.4 390.8L1267.5 390.8L1277.7 390.8L1287.8 390.7L1297.9 390.7L1308.1 390.6L1318.2 390.5L1328.4 390.4L1338.5 390.2L1348.6 390.0L1358.7 389.8L1368.9 389.6L1379 389.3L1389.1 389.0L1399.2 388.7L1409.3 388.4L1419.4 388.0L1429.4 387.7L1439.5 387.3L1449.6 386.8L1459.6 386.4L1469.7 385.9L1479.7 385.4L1489.7 384.9L1499.7 384.3L1509.7 383.7L1519.7 383.1L1529.6 382.5L1539.5 381.8L1549.5 381.1L1559.4 380.4L1569.3 379.7L1579.1 378.9L1589 378.1L1598.8 377.3L1608.6 376.4L1618.4 375.5L1628.2 374.6L1637.9 373.7L1647.7 372.7L1657.4 371.7L1667 370.6L1676.7 369.6L1686.3 368.5L1695.9 367.4L1705.4 366.2L1715 365.0L1724.5 363.8L1733.9 362.5L1743.3 361.3L1752.7 359.9L1762.1 358.6L1771.4 357.2L1780.7 355.8L1790 354.3L1799.2 352.8L1808.3 351.3L1817.4 349.7L1826.5 348.1L1835.6 346.5L1844.5 344.8L1853.5 343.1L1862.4 341.4L1871.2 339.6L1880 337.7L1888.7 335.8L1897.4 333.9L1906 332.0L1914.5 330.0L1923 327.9L1931.4 325.8L1939.8 323.7L1948.1 321.5L1956.3 319.3L1964.5 317.0L1972.5 314.7L1980.5 312.3L1988.4 309.9L1996.3 307.4L2004 304.9L2011.7 302.4L2019.3 299.7L2026.8 297.0L2034.2 294.3L2041.5 291.5L2048.7 288.7L2055.7 285.8L2062.7 282.8L2069.6 279.8L2076.4 276.7L2083 273.6L2089.5 270.4M686.3 178.0L689.6 180.8L693 183.6L696.5 186.3L700.2 188.9L704 191.5L707.9 194.1L712 196.7L716.1 199.2L720.4 201.7L724.7 204.1L729.2 206.5L733.8 208.8L738.4 211.2L743.2 213.5L748.1 215.7L753 217.9L758.1 220.1L763.3 222.2L768.5 224.3L773.8 226.4L779.2 228.4L784.7 230.4L790.2 232.4L795.9 234.3L801.6 236.2L807.4 238.1L813.3 239.9L819.2 241.7L825.2 243.4L831.3 245.2L837.4 246.8L843.6 248.5L849.8 250.1L856.2 251.7L862.5 253.3L869 254.8L875.5 256.3L882 257.7L888.6 259.2L895.2 260.6L901.9 261.9L908.7 263.3L915.5 264.6L922.3 265.8L929.2 267.1L936.1 268.3L943.1 269.5L950.1 270.6L957.2 271.7L964.3 272.8L971.4 273.9L978.5 274.9L985.7 275.9L993 276.9L1000.2 277.9L1007.5 278.8L1014.9 279.7L1022.2 280.5L1029.6 281.4L1037 282.2L1044.5 283.0L1051.9 283.7L1059.4 284.4L1066.9 285.1L1074.5 285.8L1082 286.4L1089.6 287.1L1097.2 287.6L1104.8 288.2L1112.4 288.7L1120.1 289.2L1127.8 289.7L1135.4 290.2L1143.1 290.6L1150.8 291.0L1158.6 291.4L1166.3 291.7L1174 292.1L1181.8 292.4L1189.6 292.6L1197.3 292.9L1205.1 293.1L1212.9 293.3L1220.7 293.4L1228.5 293.6L1236.3 293.7L1244.1 293.8L1251.9 293.9L1259.7 293.9L1267.5 293.9L1275.3 293.9L1283.1 293.9L1290.9 293.8L1298.7 293.7L1306.5 293.6L1314.3 293.4L1322.1 293.3L1329.9 293.1L1337.7 292.9L1345.5 292.6L1353.2 292.4L1361 292.1L1368.7 291.7L1376.5 291.4L1384.2 291.0L1391.9 290.6L1399.6 290.2L1407.3 289.7L1414.9 289.2L1422.6 288.7L1430.2 288.2L1437.8 287.6L1445.4 287.1L1453 286.4L1460.6 285.8L1468.1 285.1L1475.6 284.4L1483.1 283.7L1490.6 283.0L1498 282.2L1505.4 281.4L1512.8 280.5L1520.2 279.7L1527.5 278.8L1534.8 277.9L1542.1 276.9L1549.3 275.9L1556.5 274.9L1563.6 273.9L1570.8 272.8L1577.9 271.7L1584.9 270.6L1591.9 269.5L1598.9 268.3L1605.8 267.1L1612.7 265.8L1619.5 264.6L1626.3 263.3L1633.1 261.9L1639.8 260.6L1646.4 259.2L1653 257.7L1659.6 256.3L1666.1 254.8L1672.5 253.3L1678.9 251.7L1685.2 250.1L1691.4 248.5L1697.6 246.8L1703.8 245.2L1709.8 243.4L1715.8 241.7L1721.8 239.9L1727.6 238.1L1733.4 236.2L1739.1 234.3L1744.8 232.4L1750.3 230.4L1755.8 228.4L1761.2 226.4L1766.5 224.3L1771.8 222.2L1776.9 220.1L1782 217.9L1786.9 215.7L1791.8 213.5L1796.6 211.2L1801.3 208.8L1805.8 206.5L1810.3 204.1L1814.7 201.7L1818.9 199.2L1823.1 196.7L1827.1 194.1L1831 191.5L1834.8 188.9L1838.5 186.3L1842 183.6L1845.5 180.8L1848.8 178.0M966.6 120.0L967.5 121.6L968.5 123.2L969.6 124.8L970.8 126.3L972 127.9L973.3 129.4L974.7 131.0L976.2 132.5L977.8 134.0L979.4 135.5L981.1 137.0L982.9 138.4L984.7 139.9L986.7 141.3L988.7 142.7L990.7 144.1L992.9 145.5L995.1 146.9L997.3 148.2L999.7 149.6L1002.1 150.9L1004.6 152.2L1007.1 153.5L1009.7 154.7L1012.3 156.0L1015 157.2L1017.8 158.4L1020.6 159.6L1023.5 160.8L1026.4 162.0L1029.4 163.1L1032.5 164.3L1035.6 165.4L1038.7 166.5L1041.9 167.5L1045.2 168.6L1048.5 169.6L1051.8 170.6L1055.2 171.6L1058.6 172.6L1062.1 173.6L1065.6 174.5L1069.2 175.4L1072.8 176.4L1076.5 177.2L1080.1 178.1L1083.9 179.0L1087.6 179.8L1091.4 180.6L1095.3 181.4L1099.1 182.1L1103 182.9L1107 183.6L1110.9 184.3L1114.9 185.0L1119 185.7L1123 186.4L1127.1 187.0L1131.2 187.6L1135.4 188.2L1139.5 188.8L1143.7 189.4L1147.9 189.9L1152.2 190.4L1156.4 190.9L1160.7 191.4L1165 191.9L1169.3 192.3L1173.7 192.7L1178 193.1L1182.4 193.5L1186.8 193.9L1191.2 194.2L1195.6 194.5L1200 194.8L1204.5 195.1L1208.9 195.4L1213.4 195.6L1217.9 195.8L1222.3 196.1L1226.8 196.2L1231.3 196.4L1235.8 196.6L1240.4 196.7L1244.9 196.8L1249.4 196.9L1253.9 196.9L1258.5 197.0L1263 197.0L1267.5 197.0L1272 197.0L1276.6 197.0L1281.1 196.9L1285.6 196.9L1290.1 196.8L1294.7 196.7L1299.2 196.6L1303.7 196.4L1308.2 196.2L1312.7 196.1L1317.2 195.8L1321.6 195.6L1326.1 195.4L1330.6 195.1L1335 194.8L1339.4 194.5L1343.9 194.2L1348.3 193.9L1352.6 193.5L1357 193.1L1361.4 192.7L1365.7 192.3L1370 191.9L1374.3 191.4L1378.6 190.9L1382.9 190.4L1387.1 189.9L1391.3 189.4L1395.5 188.8L1399.7 188.2L1403.8 187.6L1407.9 187.0L1412 186.4L1416.1 185.7L1420.1 185.0L1424.1 184.3L1428.1 183.6L1432 182.9L1435.9 182.1L1439.8 181.4L1443.6 180.6L1447.4 179.8L1451.2 179.0L1454.9 178.1L1458.6 177.2L1462.2 176.4L1465.8 175.4L1469.4 174.5L1472.9 173.6L1476.4 172.6L1479.8 171.6L1483.2 170.6L1486.6 169.6L1489.9 168.6L1493.1 167.5L1496.3 166.5L1499.4 165.4L1502.5 164.3L1505.6 163.1L1508.6 162.0L1511.5 160.8L1514.4 159.6L1517.2 158.4L1520 157.2L1522.7 156.0L1525.4 154.7L1527.9 153.5L1530.5 152.2L1532.9 150.9L1535.3 149.6L1537.7 148.2L1540 146.9L1542.2 145.5L1544.3 144.1L1546.4 142.7L1548.4 141.3L1550.3 139.9L1552.1 138.4L1553.9 137.0L1555.6 135.5L1557.3 134.0L1558.8 132.5L1560.3 131.0L1561.7 129.4L1563 127.9L1564.3 126.3L1565.4 124.8L1566.5 123.2L1567.5 121.6L1568.4 120.0" stroke="#b0b0b0" stroke-width="3.33"/>
<path d="M727.2 1196.4L730.2 1195.5L733.1 1194.6L735.9 1193.7L738.6 1192.7L741.2 1191.7L743.6 1190.7L746 1189.7L748.2 1188.6L750.4 1187.5L752.4 1186.4L754.4 1185.2L756.2 1184.1L758 1182.9L759.6 1181.7L761.2 1180.4L762.7 1179.1L764.1 1177.8L765.4 1176.5L766.7 1175.1L767.8 1173.7L768.9 1172.3L769.9 1170.8L770.8 1169.3L771.7 1167.8L772.4 1166.2L773.1 1164.6L773.7 1163.0L774.3 1161.3L774.7 1159.5L775.1 1157.8L775.5 1155.9L775.7 1154.1L775.9 1152.2L776 1150.2L776 1148.2L776 1146.1L775.9 1144.0L775.8 1141.9L775.5 1139.6L775.2 1137.3L774.9 1135.0L774.5 1132.5L774 1130.1L773.4 1127.5L772.8 1124.9L772.1 1122.1L771.4 1119.3L770.6 1116.5L769.7 1113.5L768.8 1110.5L767.8 1107.3L766.7 1104.1L765.6 1100.7L764.5 1097.3L763.3 1093.7L762 1090.0L760.7 1086.2L759.3 1082.3L757.9 1078.2L756.4 1074.0L754.9 1069.7L753.4 1065.2L751.8 1060.6L750.2 1055.8L748.5 1050.8L746.9 1045.7L745.2 1040.4L743.5 1034.8L741.7 1029.1L740 1023.2L738.3 1017.1L736.6 1010.7L734.9 1004.1L733.3 997.3L731.7 990.2L730.1 982.9L728.6 975.3L727.2 967.4L725.9 959.3L724.6 950.8L723.5 942.1L722.6 933.0L721.8 923.7L721.2 914.0L720.8 904.1L720.6 893.8L720.6 883.2L721 872.2L721.6 861.0L722.5 849.5L723.7 837.6L725.4 825.5L727.4 813.2L729.7 800.5L732.5 787.7L735.8 774.6L739.4 761.4L743.5 748.0L748.1 734.5L753.1 720.9L758.5 707.3L764.4 693.6L770.7 680.0L777.4 666.4L784.5 653.0L792 639.6L799.8 626.4L807.9 613.5L816.3 600.7L824.9 588.2L833.8 576.0L842.8 564.0L852 552.4L861.2 541.1L870.6 530.1L880 519.5L889.4 509.2L898.9 499.2L908.3 489.6L917.6 480.4L926.9 471.4L936.1 462.9L945.2 454.6L954.3 446.7L963.1 439.1L971.9 431.8L980.5 424.7L989 418.0L997.3 411.6L1005.5 405.4L1013.5 399.4L1021.4 393.7L1029.1 388.3L1036.6 383.1L1044 378.1L1051.3 373.2L1058.4 368.6L1065.3 364.2L1072.1 360.0L1078.8 355.9L1085.3 352.1L1091.7 348.3L1098 344.7L1104.1 341.3L1110.1 338.0L1116 334.9L1121.7 331.8L1127.4 328.9L1132.9 326.1L1138.3 323.5L1143.7 320.9L1148.9 318.4L1154 316.1L1159 313.8L1164 311.6L1168.9 309.5L1173.6 307.5L1178.4 305.6L1183 303.8L1187.5 302.0L1192 300.3L1196.5 298.7L1200.8 297.2L1205.1 295.7L1209.4 294.3L1213.6 292.9L1217.7 291.6L1221.8 290.4L1225.8 289.2L1229.8 288.1L1233.8 287.1L1237.7 286.0L1241.6 285.1L1245.5 284.2L1249.3 283.3L1253.1 282.5L1256.9 281.7L1260.6 281.0L1264.3 280.3L1268 279.7L1271.7 279.1L1275.4 278.6L1279 278.1L1282.6 277.6L1286.3 277.2L1289.9 276.8L1293.5 276.5L1297.1 276.2L1300.7 275.9L1304.3 275.7L1307.9 275.6L1311.6 275.4L1315.2 275.3L1318.8 275.3L1322.4 275.3L1326.1 275.3L1329.8 275.3L1333.4 275.4L1337.1 275.6L1340.8 275.8L1344.6 276.0L1348.3 276.3L1352.1 276.6L1356 276.9L1359.8 277.3L1363.7 277.7L1367.6 278.2L1371.6 278.7L1375.6 279.3L1379.6 279.9L1383.7 280.6L1387.8 281.3L1392 282.0L1396.2 282.8L1400.5 283.7L1404.8 284.6L1409.2 285.6L1413.7 286.6L1418.2 287.7L1422.8 288.8L1427.5 290.0L1432.3 291.2L1437.1 292.6L1442 294.0L1447 295.4L1452.1 297.0L1457.3 298.6L1462.5 300.2L1467.9 302.0L1473.4 303.9L1479 305.8L1484.7 307.8L1490.5 309.9L1496.4 312.2L1502.5 314.5L1508.7 316.9L1515 319.4L1521.4 322.1L1528 324.9L1534.8 327.8L1541.7 330.8L1548.7 334.0L1555.9 337.3L1563.3 340.7L1570.8 344.4L1578.5 348.2L1586.4 352.1L1594.5 356.3L1602.7 360.6L1611.1 365.2L1619.7 369.9L1628.5 374.9L1637.5 380.1L1646.7 385.5L1656.1 391.2L1665.6 397.2L1675.3 403.4L1685.2 409.9L1695.3 416.7L1705.5 423.9L1715.9 431.3L1726.4 439.1L1737.1 447.2L1747.9 455.7L1758.7 464.5L1769.7 473.7L1780.6 483.3L1791.6 493.3L1802.6 503.6L1813.5 514.3L1824.4 525.5L1835.1 537.0L1845.7 548.8L1856.1 561.1L1866.2 573.6L1876 586.5L1885.5 599.8L1894.6 613.3L1903.3 627.0L1911.6 641.0L1919.3 655.2L1926.6 669.5L1933.2 683.9L1939.3 698.5L1944.8 713.0L1949.7 727.5L1953.9 742.0L1957.6 756.4L1960.6 770.7L1963.1 784.8L1965 798.8L1966.3 812.5L1967.1 825.9L1967.3 839.1L1967.1 852.0L1966.5 864.6L1965.4 876.9L1963.9 888.9L1962.1 900.5L1960 911.7L1957.6 922.7L1955 933.2L1952.1 943.5L1949 953.4L1945.7 962.9L1942.3 972.2L1938.8 981.1L1935.2 989.7L1931.5 998.0L1927.8 1006.0L1924 1013.7L1920.1 1021.1L1916.3 1028.3L1912.4 1035.2L1908.6 1041.9L1904.8 1048.3L1901 1054.5L1897.2 1060.5L1893.5 1066.2L1889.8 1071.8L1886.2 1077.2L1882.7 1082.4L1879.2 1087.4L1875.8 1092.2L1872.4 1096.9L1869.1 1101.4L1866 1105.7L1862.8 1110.0L1859.8 1114.1L1856.9 1118.0L1854 1121.8L1851.2 1125.5L1848.5 1129.1L1845.9 1132.6L1843.4 1136.0L1841 1139.3L1838.6 1142.5L1836.4 1145.5L1834.2 1148.5L1832.1 1151.5L1830.1 1154.3L1828.2 1157.0L1826.4 1159.7L1824.6 1162.3L1823 1164.9L1821.4 1167.4L1820 1169.8L1818.6 1172.1L1817.3 1174.4L1816.1 1176.7L1815 1178.8L1813.9 1181.0L1813 1183.1L1812.1 1185.1L1811.4 1187.1L1810.7 1189.0L1810.1 1190.9L1809.6 1192.8L1809.1 1194.6L1808.8 1196.4" stroke="#0000ff" stroke-width="8.9"/>
<path d="M100.0 681.5H2435.0" stroke="#bf00bf" stroke-width="8.9"/>
<path d="M105.5 681.9L112 686.3L118.6 690.6L125.2 694.9L131.9 699.1L138.6 703.3L145.4 707.4L152.2 711.4L159.1 715.4L166.1 719.4L173 723.3L180.1 727.1L187.1 730.9L194.2 734.6L201.4 738.3L208.5 741.9L215.7 745.4L223 748.9L230.2 752.3L237.5 755.7L244.8 758.9L252.1 762.2L259.4 765.3L266.8 768.5L274.1 771.5L281.5 774.5L288.9 777.4L296.3 780.3L303.6 783.1L311 785.8L318.4 788.5L325.8 791.1L333.1 793.6L340.5 796.1L347.8 798.6L355.2 800.9L362.5 803.2L369.8 805.5L377.1 807.7L384.4 809.8L391.7 811.9L399 813.9L406.2 815.8L413.4 817.7L420.6 819.5L427.8 821.3L434.9 823.0L442 824.7L449.1 826.3L456.2 827.9L463.3 829.4L470.3 830.8L477.3 832.2L484.2 833.5L491.2 834.8L498.1 836.0L505 837.2L511.8 838.3L518.6 839.4L525.4 840.4L532.2 841.4L538.9 842.3L545.6 843.2L552.3 844.0L559 844.8L565.6 845.5L572.2 846.2L578.7 846.9L585.2 847.4L591.7 848.0L598.2 848.5L604.7 848.9L611.1 849.3L617.5 849.7L623.8 850.0L630.2 850.3L636.5 850.5L642.8 850.7L649 850.8L655.2 850.9L661.5 850.9L667.6 851.0L673.8 850.9L679.9 850.9L686.1 850.7L692.2 850.6L698.2 850.4L704.3 850.1L710.3 849.9L716.4 849.5L722.4 849.2L728.4 848.8L734.3 848.4L740.3 847.9L746.2 847.4L752.1 846.8L758.1 846.2L764 845.6L769.8 844.9L775.7 844.2L781.6 843.5L787.4 842.7L793.3 841.9L799.1 841.0L805 840.1L810.8 839.2L816.6 838.2L822.4 837.2L828.2 836.2L834.1 835.1L839.9 834.0L845.7 832.8L851.5 831.6L857.3 830.4L863.1 829.2L868.9 827.9L874.7 826.5L880.5 825.2L886.3 823.8L892.1 822.3L897.9 820.9L903.8 819.4L909.6 817.8L915.4 816.2L921.3 814.6L927.1 813.0L933 811.3L938.9 809.6L944.7 807.9L950.6 806.1L956.5 804.3L962.4 802.5L968.4 800.6L974.3 798.7L980.2 796.8L986.2 794.8L992.2 792.8L998.1 790.8L1004.1 788.7L1010.2 786.6L1016.2 784.5L1022.2 782.4L1028.3 780.2L1034.3 778.0L1040.4 775.8L1046.5 773.5L1052.6 771.2L1058.8 768.9L1064.9 766.6L1071.1 764.2L1077.2 761.8L1083.4 759.4L1089.6 756.9L1095.9 754.5L1102.1 752.0L1108.3 749.5L1114.6 747.0L1120.9 744.4L1127.2 741.9L1133.5 739.3L1139.8 736.7L1146.1 734.0L1152.5 731.4L1158.8 728.7L1165.2 726.1L1171.5 723.4L1177.9 720.7L1184.3 718.0L1190.7 715.2L1197.1 712.5L1203.6 709.8L1210 707.0L1216.4 704.2L1222.8 701.5L1229.3 698.7L1235.7 695.9L1242.2 693.1L1248.6 690.3L1255.1 687.5L1261.6 684.7L1268 681.9L1274.5 679.1L1280.9 676.3L1287.4 673.5L1293.8 670.7L1300.3 667.9L1306.7 665.1L1313.2 662.4L1319.6 659.6L1326 656.8L1332.5 654.1L1338.9 651.3L1345.3 648.6L1351.7 645.9L1358.1 643.1L1364.5 640.4L1370.9 637.8L1377.2 635.1L1383.6 632.4L1389.9 629.8L1396.2 627.2L1402.6 624.6L1408.9 622.0L1415.2 619.4L1421.4 616.9L1427.7 614.3L1433.9 611.8L1440.2 609.3L1446.4 606.9L1452.6 604.4L1458.8 602.0L1465 599.6L1471.1 597.3L1477.3 594.9L1483.4 592.6L1489.5 590.3L1495.6 588.1L1501.7 585.8L1507.8 583.6L1513.8 581.5L1519.9 579.3L1525.9 577.2L1531.9 575.1L1537.9 573.0L1543.9 571.0L1549.8 569.0L1555.8 567.1L1561.7 565.1L1567.7 563.2L1573.6 561.4L1579.5 559.5L1585.4 557.7L1591.3 555.9L1597.2 554.2L1603 552.5L1608.9 550.8L1614.8 549.2L1620.6 547.6L1626.4 546.0L1632.3 544.5L1638.1 543.0L1643.9 541.5L1649.7 540.1L1655.5 538.7L1661.3 537.3L1667.1 536.0L1673 534.7L1678.8 533.4L1684.6 532.2L1690.4 531.0L1696.2 529.9L1702 528.7L1707.8 527.7L1713.6 526.6L1719.4 525.6L1725.2 524.6L1731.1 523.7L1736.9 522.8L1742.7 522.0L1748.6 521.1L1754.4 520.4L1760.3 519.6L1766.2 518.9L1772.1 518.2L1778 517.6L1783.9 517.0L1789.8 516.5L1795.8 515.9L1801.7 515.5L1807.7 515.0L1813.7 514.6L1819.7 514.3L1825.7 514.0L1831.7 513.7L1837.8 513.4L1843.9 513.2L1850 513.1L1856.1 513.0L1862.2 512.9L1868.4 512.9L1874.6 512.9L1880.8 512.9L1887 513.0L1893.3 513.2L1899.6 513.3L1905.9 513.6L1912.2 513.8L1918.6 514.1L1924.9 514.5L1931.4 514.9L1937.8 515.3L1944.3 515.8L1950.8 516.4L1957.3 517.0L1963.9 517.6L1970.5 518.3L1977.1 519.0L1983.7 519.8L1990.4 520.6L1997.1 521.5L2003.8 522.4L2010.6 523.4L2017.4 524.4L2024.2 525.5L2031.1 526.6L2037.9 527.8L2044.8 529.0L2051.8 530.3L2058.7 531.6L2065.7 533.0L2072.8 534.5L2079.8 536.0L2086.9 537.5L2094 539.1L2101.1 540.8L2108.3 542.5L2115.4 544.3L2122.6 546.1L2129.8 548.0L2137.1 550.0L2144.3 552.0L2151.6 554.0L2158.9 556.2L2166.2 558.4L2173.5 560.6L2180.8 562.9L2188.2 565.3L2195.5 567.7L2202.9 570.2L2210.3 572.7L2217.6 575.4L2225 578.0L2232.4 580.8L2239.8 583.6L2247.1 586.4L2254.5 589.3L2261.9 592.3L2269.2 595.4L2276.6 598.5L2283.9 601.6L2291.2 604.9L2298.5 608.2L2305.8 611.5L2313.1 614.9L2320.3 618.4L2327.5 622.0L2334.7 625.6L2341.8 629.2L2348.9 632.9L2356 636.7L2363 640.5L2370 644.4L2376.9 648.4L2383.8 652.4L2390.6 656.4L2397.4 660.6L2404.2 664.7L2410.8 668.9L2417.5 673.2L2424 677.5L2430.5 681.9" stroke="#008000" stroke-width="8.9"/>
</g>
<path d="M543.18 279.18l18.63 18.63m-18.63 0l18.63 -18.63M468.18 311.18l18.63 18.63m-18.63 0l18.63 -18.63M310.18 418.18l18.63 18.63m-18.63 0l18.63 -18.63M369.18 426.18l18.63 18.63m-18.63 0l18.63 -18.63M173.18 519.18l18.63 18.63m-18.63 0l18.63 -18.63M458.18 577.18l18.63 18.63m-18.63 0l18.63 -18.63M560.18 687.18l18.63 18.63m-18.63 0l18.63 -18.63M182.18 784.18l18.63 18.63m-18.63 0l18.63 -18.63M623.18 805.18l18.63 18.63m-18.63 0l18.63 -18.63M673.18 431.18l18.63 18.63m-18.63 0l18.63 -18.63M892.18 519.18l18.63 18.63m-18.63 0l18.63 -18.63M1141.18 450.18l18.63 18.63m-18.63 0l18.63 -18.63M1123.18 226.18l18.63 18.63m-18.63 0l18.63 -18.63M962.18 169.18l18.63 18.63m-18.63 0l18.63 -18.63M1322.18 122.18l18.63 18.63m-18.63 0l18.63 -18.63M1626.18 158.18l18.63 18.63m-18.63 0l18.63 -18.63M1636.18 160.18l18.63 18.63m-18.63 0l18.63 -18.63M1387.18 650.18l18.63 18.63m-18.63 0l18.63 -18.63M1770.18 517.18l18.63 18.63m-18.63 0l18.63 -18.63M1931.18 489.18l18.63 18.63m-18.63 0l18.63 -18.63M2127.18 512.18l18.63 18.63m-18.63 0l18.63 -18.63M2329.18 478.18l18.63 18.63m-18.63 0l18.63 -18.63M1809.18 690.18l18.63 18.63m-18.63 0l18.63 -18.63" fill="none" stroke="#ff0000" stroke-width="6.25"/>
<g fill="#ff0000" font-size="33.33">
<text x="564.7" y="285.0">M 51</text>
<text x="488.7" y="318.0">M 63</text>
<text x="331.1" y="425.0">Coma Cluster</text>
<text x="389.7" y="433.0">M 3</text>
<text x="194.7" y="526.0">M 100</text>
<text x="479.7" y="584.0">NGC 5957</text>
<text x="581.7" y="694.0">M 12</text>
<text x="203.8" y="790.0">Sombrero Galaxy</text>
<text x="644.5" y="812.0">3I-ATLAS</text>
<text x="694.7" y="437.0">HAT-P-18 b</text>
<text x="912.7" y="526.0">M 27</text>
<text x="1161.7" y="457.0">NGC 7331</text>
<text x="1144.7" y="233.0">NGC 7023</text>
<text x="985.0" y="176.0">TIC 272758199.01</text>
<text x="1344.0" y="129.0">TOI-2154b</text>
<text x="1647.7" y="164.0">M 82</text>
<text x="1657.7" y="167.0">M 81</text>
<text x="1408.7" y="657.0">NGC 474</text>
<text x="1792.1" y="524.0">Crab Nebula</text>
<text x="1952.7" y="496.0">HAT-P-20b</text>
<text x="2148.6" y="519.0">29/Amphitrite</text>
<text x="2349.7" y="485.0">NGC 3842</text>
<text x="1830.7" y="697.0">Horsehead Nebula</text>
</g>
<ellipse cx="1267.51" cy="681.41" rx="1162.50" ry="581.25" fill="none" stroke="#000" stroke-width="4.17"/>
<text x="298.8" y="669.4" font-size="50.00" text-anchor="middle">-150°</text>
<text x="492.5" y="669.4" font-size="50.00" text-anchor="middle">-120°</text>
<text x="686.3" y="669.4" font-size="50.00" text-anchor="middle">-90°</text>
<text x="880.0" y="669.4" font-size="50.00" text-anchor="middle">-60°</text>
<text x="1073.8" y="669.4" font-size="50.00" text-anchor="middle">-30°</text>
<text x="1267.5" y="669.4" font-size="50.00" text-anchor="middle">0°</text>
<text x="1461.3" y="669.4" font-size="50.00" text-anchor="middle">30°</text>
<text x="1655.0" y="669.4" font-size="50.00" text-anchor="middle">60°</text>
<text x="1848.8" y="669.4" font-size="50.00" text-anchor="middle">90°</text>
<text x="2042.5" y="669.4" font-size="50.00" text-anchor="middle">120°</text>
<text x="2236.3" y="669.4" font-size="50.00" text-anchor="middle">150°</text>
<text x="958.6" y="1314.0" font-size="50.00" text-anchor="end">-75°</text>
<text x="678.3" y="1250.1" font-size="50.00" text-anchor="end">-60°</text>
<text x="437.5" y="1148.5" font-size="50.00" text-anchor="end">-45°</text>
<text x="252.8" y="1016.1" font-size="50.00" text-anchor="end">-30°</text>
<text x="136.6" y="861.9" font-size="50.00" text-anchor="end">-15°</text>
<text x="97.0" y="697.4" font-size="50.00" text-anchor="end">0°</text>
<text x="136.6" y="530.9" font-size="50.00" text-anchor="end">15°</text>
<text x="251.8" y="376.7" font-size="50.00" text-anchor="end">30°</text>
<text x="436.5" y="245.3" font-size="50.00" text-anchor="end">45°</text>
<text x="678.3" y="142.7" font-size="50.00" text-anchor="end">60°</text>
<text x="958.6" y="78.8" font-size="50.00" text-anchor="end">75°</text>
<text x="1267.5" y="76.2" font-size="60.00" text-anchor="middle">ICRS frame</text>
<text x="2431.0" y="81.4" font-size="50.00" text-anchor="end" fill="#0000ff">Galactic plane</text>
<text x="2430.0" y="138.5" font-size="50.00" text-anchor="end" fill="#008000">Ecliptic plane</text>
<text x="2430.0" y="196.6" font-size="50.00" text-anchor="end" fill="#bf00bf">Celestial equator</text>
</svg>
</body></html>
